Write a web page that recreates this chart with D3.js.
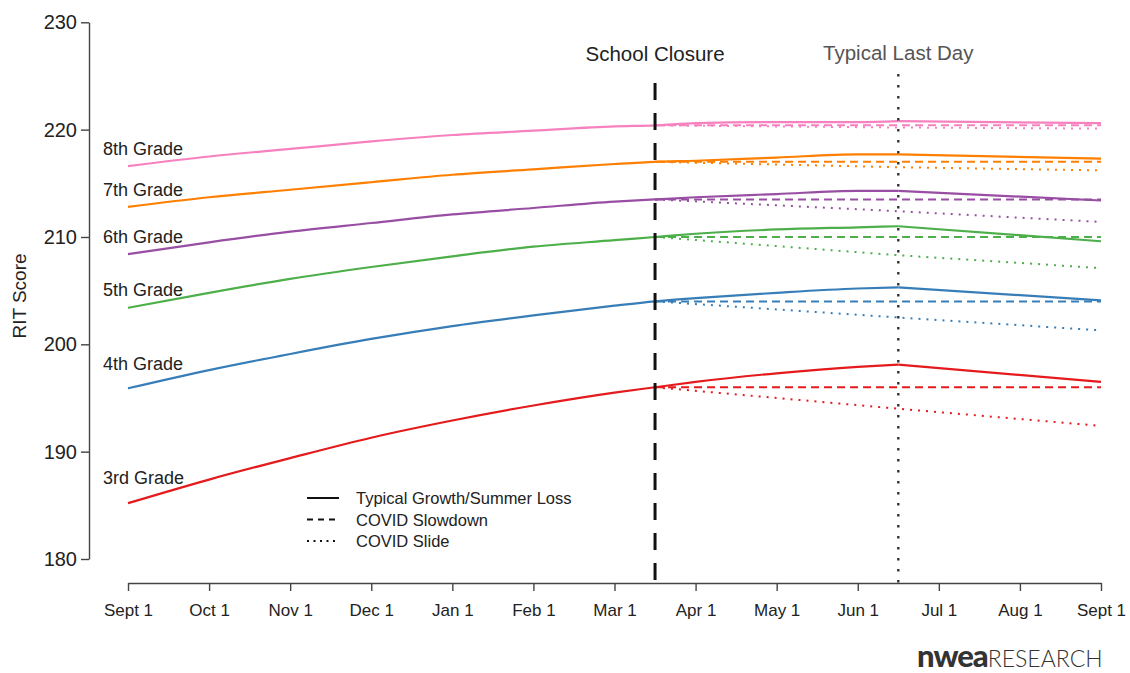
<!DOCTYPE html>
<html>
<head>
<meta charset="utf-8">
<script src="https://cdn.jsdelivr.net/npm/d3@7"></script>
<style>
  body { margin: 0; background: #ffffff; }
  text { font-family: "Liberation Sans", Arial, sans-serif; fill: #222; }
</style>
</head>
<body>
<div id="chart"></div>
<script>
// month ticks along the bottom (school year, Sept to Sept)
var monthLabels = ["Sept 1", "Oct 1", "Nov 1", "Dec 1", "Jan 1", "Feb 1", "Mar 1",
  "Apr 1", "May 1", "Jun 1", "Jul 1", "Aug 1", "Sept 1"];

var grades = ["3rd Grade", "4th Grade", "5th Grade", "6th Grade", "7th Grade", "8th Grade"];
var gradeColors = ["#E41A1C", "#377EB8", "#4DAF4A", "#984EA3", "#FF7F00", "#F781BF"];

var closureMonth = 6.5;   // mid March
var lastDayMonth = 9.5;   // mid June

// typical growth / summer loss, months since Sept 1
var typicalMonths = [0, 1, 2, 3, 4, 5, 6, 6.5, 7, 8, 9, 9.5, 12];
var typical3 = [185.2, 187.4, 189.4, 191.3, 192.9, 194.3, 195.5, 196.0, 196.5, 197.3, 197.9, 198.1, 196.5];
var typical4 = [195.9, 197.6, 199.1, 200.5, 201.7, 202.7, 203.6, 204.0, 204.3, 204.8, 205.2, 205.3, 204.1];
var typical5 = [203.4, 204.8, 206.1, 207.2, 208.2, 209.1, 209.7, 210.0, 210.3, 210.7, 210.9, 211.0, 209.6];
var typical6 = [208.4, 209.5, 210.5, 211.3, 212.1, 212.7, 213.3, 213.5, 213.7, 214.0, 214.3, 214.3, 213.4];
var typical7 = [212.8, 213.7, 214.4, 215.1, 215.8, 216.3, 216.8, 217.0, 217.1, 217.4, 217.7, 217.7, 217.3];
var typical8 = [216.6, 217.5, 218.2, 218.9, 219.5, 219.9, 220.3, 220.4, 220.6, 220.7, 220.7, 220.8, 220.6];

// COVID slowdown: flat from closure
var slowdownMonths = [6.5, 12];
var slowdown = [196.0, 204.0, 210.0, 213.5, 217.0, 220.4];

// COVID slide: closure, typical last day, Sept 1
var slideMonths = [6.5, 9.5, 12];
var slide3 = [196.0, 194.0, 192.4];
var slide4 = [204.0, 202.5, 201.3];
var slide5 = [210.0, 208.3, 207.1];
var slide6 = [213.5, 212.4, 211.4];
var slide7 = [217.0, 216.5, 216.2];
var slide8 = [220.4, 220.2, 220.1];

var yTicks = [180, 190, 200, 210, 220, 230];

var legendLabels = ["Typical Growth/Summer Loss", "COVID Slowdown", "COVID Slide"];

var svgWidth = 1130;
var svgHeight = 673;

var typicalSeries = [typical3, typical4, typical5, typical6, typical7, typical8];
var slideSeries = [slide3, slide4, slide5, slide6, slide7, slide8];

var svg = d3.select("#chart")
  .append("svg")
  .attr("width", svgWidth)
  .attr("height", svgHeight);

var x = d3.scaleLinear().domain([0, 12]).range([128, 1101]);
var y = d3.scaleLinear().domain([180, 230]).range([559, 22.3]);

// y axis
var yAxis = svg.append("g")
  .attr("transform", "translate(89,0)")
  .call(d3.axisLeft(y).tickValues(yTicks).tickSizeInner(8).tickSizeOuter(0).tickPadding(4));
yAxis.selectAll("text").style("font-size", "20px").attr("fill", "#222");
yAxis.selectAll("line, path").attr("stroke", "#444").attr("stroke-width", 1.4);

// x axis
var xAxis = svg.append("g")
  .attr("transform", "translate(0,583)")
  .call(d3.axisBottom(x).tickValues(d3.range(13)).tickFormat(function(d) { return monthLabels[d]; })
    .tickSizeInner(8).tickSizeOuter(0).tickPadding(13));
xAxis.selectAll("text").style("font-size", "17px").attr("fill", "#222");
xAxis.selectAll("line, path").attr("stroke", "#444").attr("stroke-width", 1.4);

svg.append("text")
  .attr("transform", "translate(26,296) rotate(-90)")
  .attr("text-anchor", "middle")
  .style("font-size", "19px")
  .text("RIT Score");

var curveLine = d3.line()
  .x(function(d) { return x(d[0]); })
  .y(function(d) { return y(d[1]); })
  .curve(d3.curveMonotoneX);

var straightLine = d3.line()
  .x(function(d) { return x(d[0]); })
  .y(function(d) { return y(d[1]); });

grades.forEach(function(g, i) {
  var color = gradeColors[i];

  // slide (dotted)
  svg.append("path")
    .attr("d", straightLine(slideMonths.map(function(m, j) { return [m, slideSeries[i][j]]; })))
    .attr("fill", "none")
    .attr("stroke", color)
    .attr("stroke-width", 2)
    .attr("stroke-dasharray", "2,6");

  // slowdown (dashed)
  svg.append("path")
    .attr("d", straightLine(slowdownMonths.map(function(m) { return [m, slowdown[i]]; })))
    .attr("fill", "none")
    .attr("stroke", color)
    .attr("stroke-width", 2)
    .attr("stroke-dasharray", "8,5");

  // typical: school year curve, then summer loss
  var pts = typicalMonths.map(function(m, j) { return [m, typicalSeries[i][j]]; });
  svg.append("path")
    .attr("d", curveLine(pts.slice(0, 12)))
    .attr("fill", "none")
    .attr("stroke", color)
    .attr("stroke-width", 2.2);
  svg.append("path")
    .attr("d", straightLine(pts.slice(11)))
    .attr("fill", "none")
    .attr("stroke", color)
    .attr("stroke-width", 2.2);
});

// grade labels sit just above where each line starts
var labelOffset = [19, 18, 12, 11, 11, 11];
grades.forEach(function(g, i) {
  svg.append("text")
    .attr("x", 103)
    .attr("y", y(typicalSeries[i][0]) - labelOffset[i])
    .style("font-size", "18px")
    .text(g);
});

// school closure and last day markers
svg.append("line")
  .attr("x1", x(closureMonth)).attr("x2", x(closureMonth))
  .attr("y1", 83).attr("y2", 583)
  .attr("stroke", "#111")
  .attr("stroke-width", 3)
  .attr("stroke-dasharray", "17,13");

svg.append("line")
  .attr("x1", x(lastDayMonth)).attr("x2", x(lastDayMonth))
  .attr("y1", 74).attr("y2", 583)
  .attr("stroke", "#333")
  .attr("stroke-width", 2.4)
  .attr("stroke-dasharray", "2.4,8.6");

svg.append("text")
  .attr("x", x(closureMonth))
  .attr("y", 61)
  .attr("text-anchor", "middle")
  .style("font-size", "20.5px")
  .attr("fill", "#111")
  .text("School Closure");

svg.append("text")
  .attr("x", x(lastDayMonth))
  .attr("y", 60)
  .attr("text-anchor", "middle")
  .style("font-size", "20.5px")
  .style("fill", "#555")
  .text("Typical Last Day");

// legend
var dashes = [null, "6,5", "2,4.5"];
legendLabels.forEach(function(l, i) {
  var ly = 498 + i * 21.5;
  svg.append("line")
    .attr("x1", 307).attr("x2", 339)
    .attr("y1", ly).attr("y2", ly)
    .attr("stroke", "#111")
    .attr("stroke-width", 2)
    .attr("stroke-dasharray", dashes[i]);
  svg.append("text")
    .attr("x", 356)
    .attr("y", ly + 6)
    .style("font-size", "16.5px")
    .text(l);
});

// logo
var logo = svg.append("text")
  .attr("x", 917)
  .attr("y", 667);
logo.append("tspan")
  .style("font-family", "Lato, sans-serif")
  .style("font-weight", 900)
  .style("font-size", "31px")
  .style("letter-spacing", "-1px")
  .style("fill", "#333")
  .text("nwea");
logo.append("tspan")
  .style("font-family", "Lato, sans-serif")
  .style("font-weight", 300)
  .style("font-size", "23px")
  .style("fill", "#333")
  .text("RESEARCH");
</script>
</body>
</html>
